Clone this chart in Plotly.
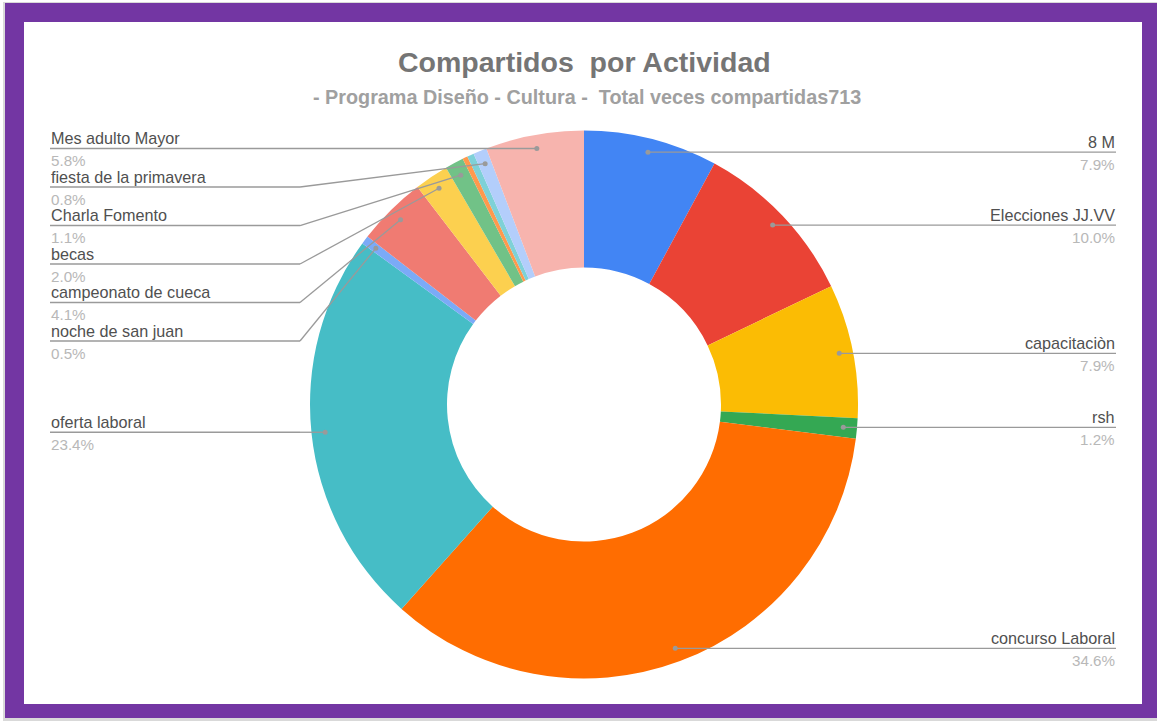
import math
import plotly.graph_objects as go

# Shares per activity (percent of 713 total shares), clockwise from 12 o'clock
actividades = ["8 M", "Elecciones JJ.VV", "capacitaciòn", "rsh", "concurso Laboral",
               "oferta laboral", "noche de san juan", "campeonato de cueca", "becas",
               "Charla Fomento", "otra actividad A", "otra actividad B",
               "fiesta de la primavera", "Mes adulto Mayor"]
porcentajes = [7.9, 10.0, 7.9, 1.2, 34.6, 23.4, 0.5, 4.1, 2.0, 1.1, 0.3, 0.4, 0.8, 5.8]
colores = ["#4285F4", "#EA4335", "#FBBC04", "#34A853", "#FF6D01", "#46BDC6", "#7BAAF7",
           "#F07B72", "#FCD04F", "#71C287", "#FF994D", "#7ED1D7", "#B3CEFB", "#F7B4AE"]
# which slices carry an outside label
etiquetada = [True, True, True, True, True, True, True, True, True, True,
              False, False, True, True]

titulo = "Compartidos  por Actividad"
subtitulo = "- Programa Diseño - Cultura -  Total veces compartidas713"

W, H = 1157, 722
CX, CY, R = 584, 404.5, 274
HOLE = 0.5
FONT = "Liberation Sans, Arial, sans-serif"


def px(x):
    return x / W


def py(y):
    return 1 - y / H


fig = go.Figure()
fig.add_trace(go.Pie(
    labels=actividades, values=porcentajes, sort=False, direction="clockwise",
    rotation=0, hole=HOLE, marker=dict(colors=colores, line=dict(width=0)),
    textinfo="none", hoverinfo="label+percent", showlegend=False,
    domain=dict(x=[px(CX - R), px(CX + R)], y=[py(CY + R), py(CY - R)]),
))

shapes = []
annotations = []

# frame: shadow, purple border, white card
shapes.append(dict(type="rect", xref="paper", yref="paper", x0=px(3), x1=px(1157),
                   y0=py(721), y1=py(2), fillcolor="#d9d9d9", line=dict(width=0),
                   layer="below"))
shapes.append(dict(type="rect", xref="paper", yref="paper", x0=px(5), x1=px(1157),
                   y0=py(718), y1=py(3), fillcolor="#7336A3", line=dict(width=0),
                   layer="below"))
shapes.append(dict(type="rect", xref="paper", yref="paper", x0=px(24), x1=px(1142),
                   y0=py(704), y1=py(22), fillcolor="#ffffff", line=dict(width=0),
                   layer="below"))

total = sum(porcentajes)
r_dot = R * 0.95
acum = 0.0
izq, der = [], []
for nombre, v, lab in zip(actividades, porcentajes, etiquetada):
    mid = (acum + v / 2) / total * 2 * math.pi
    acum += v
    if not lab:
        continue
    dx = CX + r_dot * math.sin(mid)
    dy = CY - r_dot * math.cos(mid)
    item = (nombre, v / total * 100, dx, dy)
    (der if dx >= CX else izq).append(item)

LINE_C = "#9a9a9a"
NAME_C = "#505050"
PCT_C = "#b8b8b8"
FS_NAME = 16.2
FS_PCT = 15.2


def etiqueta(nombre, pct, x, ly, anchor):
    annotations.append(dict(x=px(x), y=py(ly - 0.5), xref="paper", yref="paper",
                            text=nombre, showarrow=False, xanchor=anchor, yanchor="bottom",
                            font=dict(family=FONT, size=FS_NAME, color=NAME_C), borderpad=0))
    annotations.append(dict(x=px(x), y=py(ly + 2.5), xref="paper", yref="paper",
                            text=f"{pct:.1f}%", showarrow=False, xanchor=anchor, yanchor="top",
                            font=dict(family=FONT, size=FS_PCT, color=PCT_C), borderpad=0))


def punto(x, y):
    shapes.append(dict(type="circle", xref="paper", yref="paper",
                       x0=px(x - 2.5), x1=px(x + 2.5), y0=py(y + 2.5), y1=py(y - 2.5),
                       fillcolor=LINE_C, line=dict(width=0), layer="above"))


def linea(x0, y0, x1, y1):
    shapes.append(dict(type="line", xref="paper", yref="paper", x0=px(x0), y0=py(y0),
                       x1=px(x1), y1=py(y1), line=dict(color=LINE_C, width=1.3),
                       layer="above"))


# left column: stacked from the top
GAP = 38.5
prev = -1e9
for nombre, pct, dx, dy in sorted(izq, key=lambda t: t[3]):
    ly = max(dy, prev + GAP)
    prev = ly
    elbow = 300
    linea(50, ly, elbow, ly)
    linea(elbow, ly, dx, dy)
    punto(dx, dy)
    etiqueta(nombre, pct, 50, ly, "left")

# right column
prev = -1e9
for nombre, pct, dx, dy in sorted(der, key=lambda t: t[3]):
    ly = max(dy, prev + GAP)
    prev = ly
    linea(dx, dy, 1116, ly)
    punto(dx, dy)
    etiqueta(nombre, pct, 1116, ly, "right")

annotations.append(dict(x=px(584), y=py(62), xref="paper", yref="paper", text=f"<b>{titulo}</b>",
                        showarrow=False, xanchor="center", yanchor="middle",
                        font=dict(family=FONT, size=28.5, color="#757575")))
annotations.append(dict(x=px(587), y=py(97), xref="paper", yref="paper", text=f"<b>{subtitulo}</b>",
                        showarrow=False, xanchor="center", yanchor="middle",
                        font=dict(family=FONT, size=19.8, color="#a0a0a0")))

fig.update_layout(width=W, height=H, margin=dict(l=0, r=0, t=0, b=0),
                  paper_bgcolor="#ffffff", plot_bgcolor="#ffffff",
                  shapes=shapes, annotations=annotations, showlegend=False)

fig.write_html("out.html")
